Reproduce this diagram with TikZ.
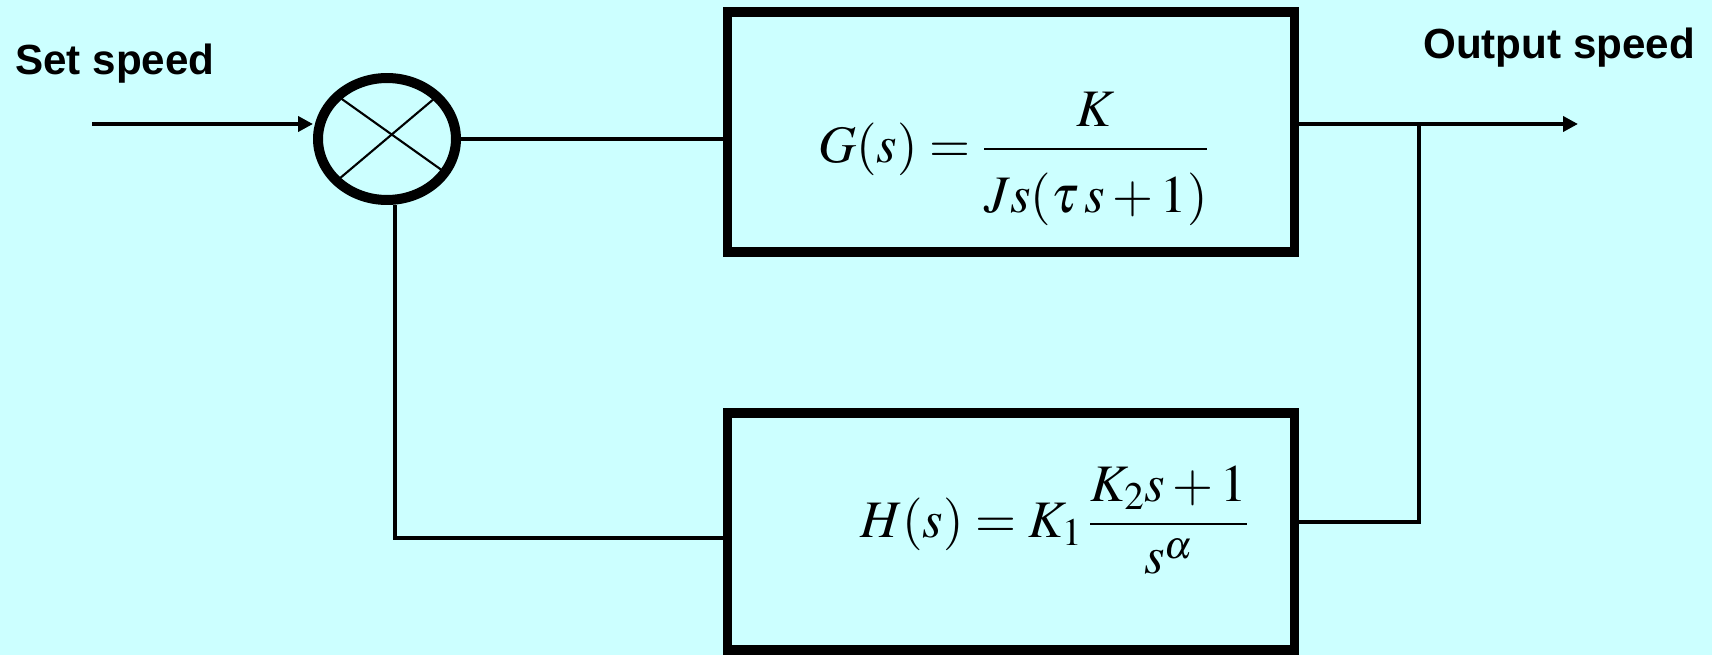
\documentclass[tikz,border=0pt]{standalone}
\usepackage{mathptmx}
\usepackage{fontspec}
\setsansfont{Liberation Sans}
\usetikzlibrary{arrows.meta,positioning,calc,shapes.geometric}
\definecolor{bgcyan}{RGB}{204,255,255}

\begin{document}
\begin{tikzpicture}[x=.02cm,y=-.02cm,
sig/.style={line width=2.3pt},
blockbox/.style={draw,line width=5.4pt,minimum width=11.35cm,outer sep=0pt,inner sep=0pt},
lbl/.style={anchor=base west,inner sep=0pt,font=\sffamily\bfseries\fontsize{24}{28}\selectfont},
tf/.style={inner sep=0pt,font=\fontsize{30}{36}\selectfont}]
\fill[bgcyan](0,0)rectangle(1712,655);
\useasboundingbox(0,0)rectangle(1712,655);
\node[lbl](setlbl)at(15,75){Set speed};
\node[lbl](outlbl)at(1423,59){Output speed};
\node[draw,ellipse,line width=5.7pt,minimum width=2.76cm,minimum height=2.44cm,inner sep=0pt](sum)at(387,139){};
\draw[line width=1.2pt]($(sum.center)+(-48,-42)$)--($(sum.center)+(56,32)$);
\draw[line width=1.2pt]($(sum.center)+(48,-41)$)--($(sum.center)+(-48,40)$);
\node[blockbox,minimum height=4.8cm](gbox)at(1011,132){};
\node[blockbox,minimum height=4.74cm](hbox)at(1011,531.5){};
\node[tf](gtf)at(1014,159){$\displaystyle G(s)=\frac{\rule[-.2em]{0pt}{0pt}K}{\rule{0pt}{1.05em}Js(\tau\,s+1)}$};
\node[tf](htf)at(1055,520){$\displaystyle H(s)=K_1\,\frac{K_2s+1}{s^{\alpha}}$};
\coordinate(in)at(92,124);
\coordinate(out)at(1578,124);
\coordinate(br)at(1419,124);
\coordinate(fb)at(1419,522);
\coordinate(fbl)at(395,538);
\draw[sig,-{Triangle[length=8.5pt,width=8.5pt]}](in)--(in-|sum.west);
\draw[sig](sum.east)--(sum.east-|gbox.west);
\draw[sig,-{Triangle[length=8.5pt,width=8.5pt]}](out-|gbox.east)--(out);
\draw[sig](br)--(fb)--(fb-|hbox.east);
\draw[sig](fbl-|hbox.west)--(fbl)--(fbl|-sum.south);
\end{tikzpicture}
\end{document}
